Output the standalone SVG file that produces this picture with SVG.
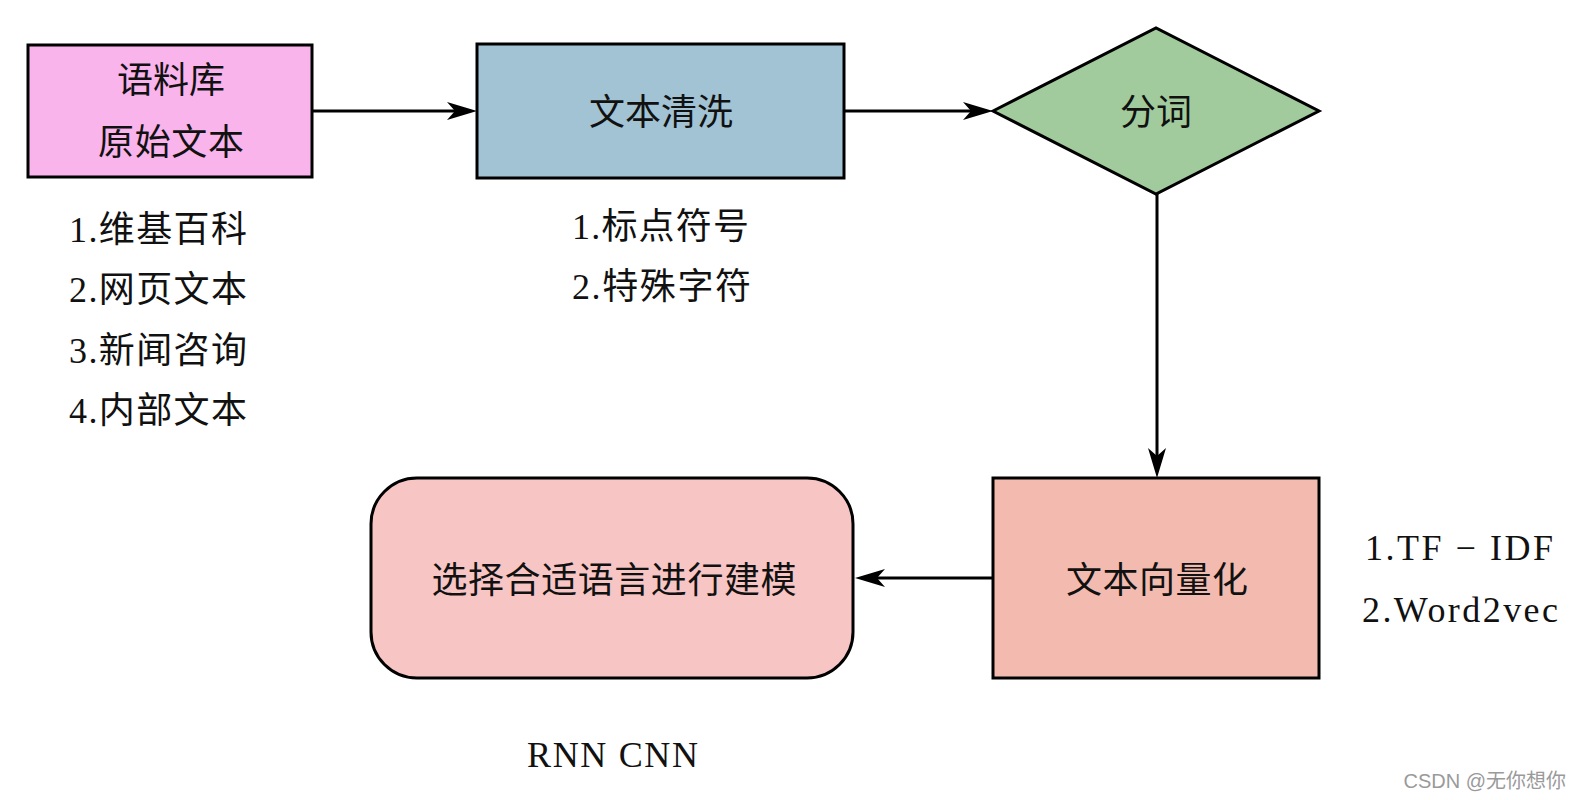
<svg xmlns="http://www.w3.org/2000/svg" width="1582" height="800" viewBox="0 0 1582 800">
  <style>
    .box { stroke: #000; stroke-width: 3; }
    .conn { stroke: #000; stroke-width: 3; fill: none; }
    .t { font-family: "Liberation Serif", "Noto Sans CJK SC", serif; font-size: 36px; fill: #111; }
    .c { text-anchor: middle; }
    .wm { font-family: "Liberation Sans", "Noto Sans CJK SC", sans-serif; font-size: 20px; fill: #9a9a9a; text-anchor: end; }
  </style>
  <defs>
    <marker id="arrow" markerUnits="userSpaceOnUse" viewBox="-10 -12 34 24" markerWidth="34" markerHeight="24" refX="0" refY="0" orient="auto">
      <path d="M-8,-9 L22,0 L-8,9 L0,0 Z" fill="#000"/>
    </marker>
  </defs>
  <rect width="1582" height="800" fill="#fff"/>

  <g id="connectors">
    <line class="conn" x1="313" y1="111" x2="455" y2="111" marker-end="url(#arrow)"/>
    <line class="conn" x1="844" y1="111" x2="971" y2="111" marker-end="url(#arrow)"/>
    <line class="conn" x1="1157" y1="194" x2="1157" y2="456" marker-end="url(#arrow)"/>
    <line class="conn" x1="993" y1="578" x2="877" y2="578" marker-end="url(#arrow)"/>
  </g>

  <g id="corpus">
    <rect class="box" x="28" y="45" width="284" height="132" fill="#F9B4EC"/>
    <text class="t c" x="171" y="93">语料库</text>
    <text class="t c" x="171" y="155" textLength="146" lengthAdjust="spacing">原始文本</text>
  </g>
  <g id="corpus-notes">
    <text class="t" x="69" y="242" textLength="178" lengthAdjust="spacing">1.维基百科</text>
    <text class="t" x="69" y="302" textLength="178" lengthAdjust="spacing">2.网页文本</text>
    <text class="t" x="69" y="363" textLength="178" lengthAdjust="spacing">3.新闻咨询</text>
    <text class="t" x="69" y="423" textLength="178" lengthAdjust="spacing">4.内部文本</text>
  </g>

  <g id="clean">
    <rect class="box" x="477" y="44" width="367" height="134" fill="#A2C3D4"/>
    <text class="t c" x="661" y="125">文本清洗</text>
  </g>
  <g id="clean-notes">
    <text class="t" x="572" y="239" textLength="177" lengthAdjust="spacing">1.标点符号</text>
    <text class="t" x="572" y="299" textLength="179" lengthAdjust="spacing">2.特殊字符</text>
  </g>

  <g id="segment">
    <polygon class="box" points="993,111 1156,28 1319,111 1156,194" fill="#A2CB9D"/>
    <text class="t c" x="1156" y="125">分词</text>
  </g>

  <g id="vectorize">
    <rect class="box" x="993" y="478" width="326" height="200" fill="#F3BBB0"/>
    <text class="t c" x="1157" y="593" textLength="182" lengthAdjust="spacing">文本向量化</text>
  </g>
  <g id="vectorize-notes">
    <text class="t" x="1365" y="560" textLength="188" lengthAdjust="spacing">1.TF − IDF</text>
    <text class="t" x="1362" y="622" textLength="196" lengthAdjust="spacing">2.Word2vec</text>
  </g>

  <g id="model">
    <rect class="box" x="371" y="478" width="482" height="200" rx="46" ry="46" fill="#F8C5C5"/>
    <text class="t c" x="614" y="593" textLength="365" lengthAdjust="spacing">选择合适语言进行建模</text>
  </g>
  <g id="model-notes">
    <text class="t" x="527" y="767" textLength="171" lengthAdjust="spacing">RNN CNN</text>
  </g>

  <text class="wm" x="1566" y="788">CSDN @无你想你</text>
</svg>
